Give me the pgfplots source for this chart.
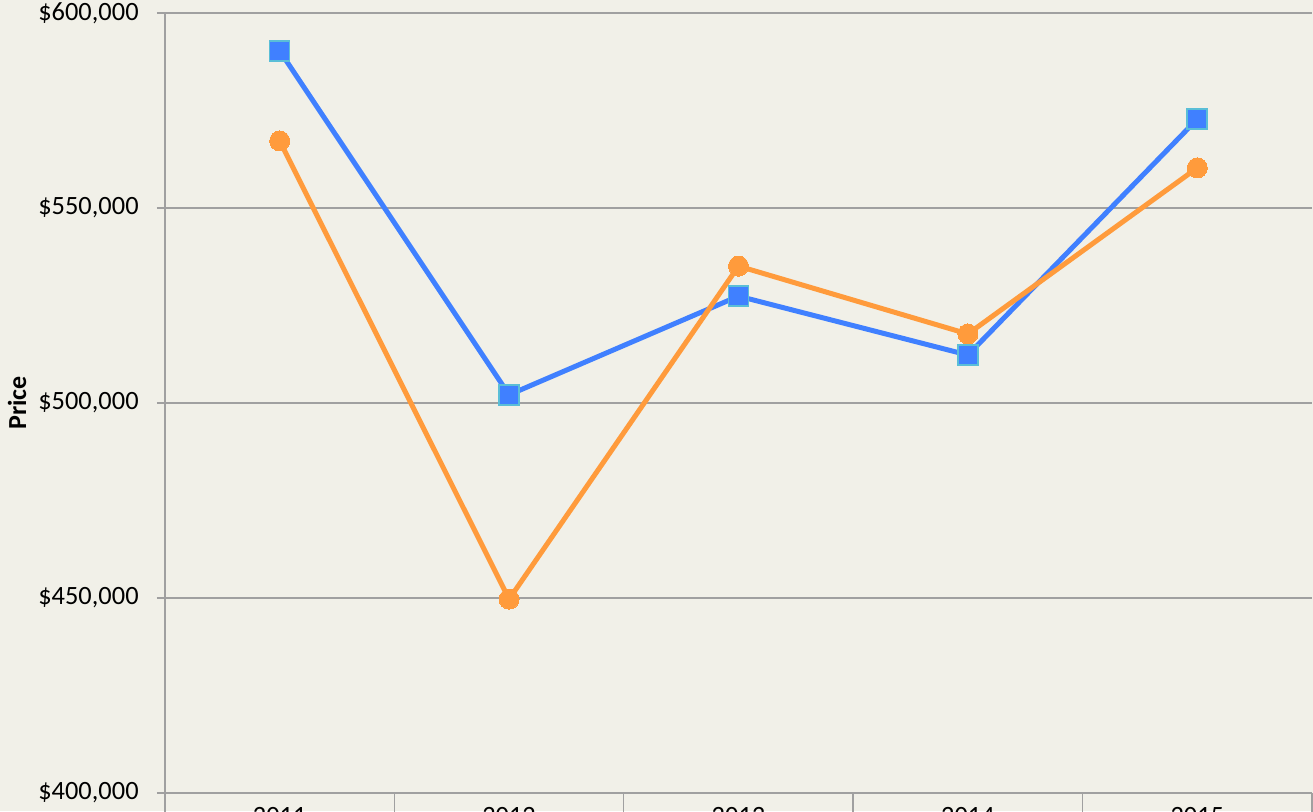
\documentclass[border=0pt]{standalone}
\usepackage{fontspec}
\setmainfont{Carlito}
\usepackage{pgfplots}
\pgfplotsset{compat=1.18}
\definecolor{bg}{RGB}{241,240,232}
\definecolor{gridgray}{RGB}{160,160,160}
\definecolor{sblue}{RGB}{64,128,255}
\definecolor{sborder}{RGB}{90,190,215}
\definecolor{sorange}{RGB}{255,155,60}
\begin{document}
\begin{tikzpicture}
\useasboundingbox (-82.5pt,-9pt) rectangle (574pt,396.5pt);
\fill[bg] (-82.5pt,-9pt) rectangle (574pt,396.5pt);
\clip (-82.5pt,-9pt) rectangle (574pt,396.5pt);
\begin{axis}[
  at={(0pt,0pt)}, anchor=south west,
  scale only axis, width=573.5pt, height=390pt,
  xmin=-0.5, xmax=4.5, ymin=400000, ymax=600000,
  xtick={0,1,2,3,4},
  xticklabels={2011,2012,2013,2014,2015},
  minor xtick={-0.5,0.5,1.5,2.5,3.5,4.5},
  ytick={400000,450000,500000,550000,600000},
  yticklabels={{\$400,000},{\$450,000},{\$500,000},{\$550,000},{\$600,000}},
  axis x line*=bottom, axis y line*=left,
  axis line style={-, draw=gridgray, line width=0.7pt},
  ymajorgrids, grid style={draw=gridgray, line width=0.7pt},
  tick style={draw=gridgray, line width=0.7pt},
  x tick style={/pgfplots/major tick length=0pt},
  tick align=outside, major tick length=4pt, minor tick length=20pt,
  tick label style={font=\fontsize{13.2}{15}\selectfont, text=black},
  yticklabel style={inner sep=0pt, anchor=east, xshift=-9pt},
  xticklabel style={inner sep=0pt, anchor=north, yshift=-3pt},
  ylabel={Price},
  ylabel style={at={(axis description cs:0,0.5)}, anchor=center, yshift=74pt, font=\fontsize{13}{15}\selectfont\bfseries},
  clip=false,
]
\addplot[sblue, line width=2.5pt, mark=square*, mark size=5pt,
  mark options={fill=sblue, draw=sborder, line width=0.8pt}]
  coordinates {(0,590300) (1,502100) (2,527400) (3,512300) (4,572800)};
\addplot[sorange, line width=2.5pt, mark=*, mark size=5pt,
  mark options={fill=sorange, draw=sorange, line width=0pt}]
  coordinates {(0,567200) (1,449700) (2,535100) (3,517700) (4,560300)};
\end{axis}
\end{tikzpicture}
\end{document}
